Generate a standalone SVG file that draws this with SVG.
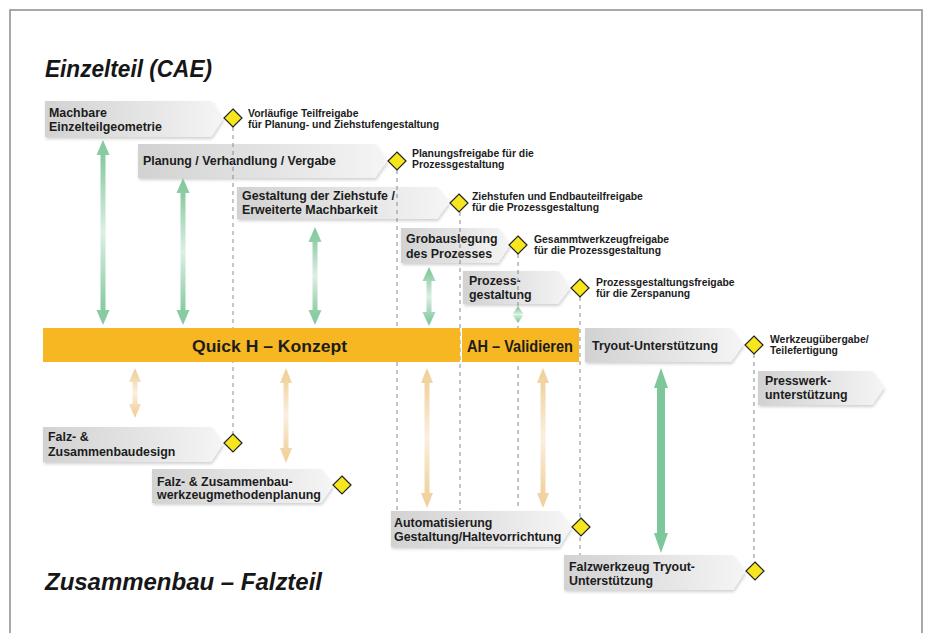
<svg xmlns="http://www.w3.org/2000/svg" width="931" height="633" viewBox="0 0 931 633">
<defs>
<linearGradient id="boxg" x1="0" y1="0" x2="1" y2="0">
<stop offset="0" stop-color="#d2d2d2"/><stop offset="0.6" stop-color="#e6e6e6"/><stop offset="1" stop-color="#f5f5f5"/>
</linearGradient>
<linearGradient id="gfade" x1="0" y1="0" x2="0" y2="1">
<stop offset="0" stop-color="#84c99e"/><stop offset="0.12" stop-color="#8ccda5"/><stop offset="0.5" stop-color="#dcefe3"/><stop offset="0.88" stop-color="#8ccda5"/><stop offset="1" stop-color="#84c99e"/>
</linearGradient>
<linearGradient id="ofade" x1="0" y1="0" x2="0" y2="1">
<stop offset="0" stop-color="#f0d09a"/><stop offset="0.15" stop-color="#f2d5a6"/><stop offset="0.5" stop-color="#faf0e0"/><stop offset="0.85" stop-color="#f2d5a6"/><stop offset="1" stop-color="#f0d09a"/>
</linearGradient>
<filter id="sh" x="-5%" y="-20%" width="115%" height="150%">
<feDropShadow dx="1" dy="2" stdDeviation="1.5" flood-color="#000" flood-opacity="0.18"/>
</filter>
</defs>
<style>
.box{fill:url(#boxg);filter:url(#sh)}
.t{font-family:"Liberation Sans",Arial,sans-serif;font-weight:700;font-size:12.4px;fill:#1c1c1c}
.s{font-family:"Liberation Sans",Arial,sans-serif;font-weight:700;font-size:10.4px;fill:#1c1c1c}
.title{font-family:"Liberation Sans",Arial,sans-serif;font-weight:700;font-style:italic;font-size:23px;fill:#161616}
.bart{font-family:"Liberation Sans",Arial,sans-serif;font-weight:700;font-size:17px;fill:#1c1c1c}
.dia{fill:#f7e51d;stroke:#222;stroke-width:1.2}
.dash{stroke:#8a8a8a;stroke-width:1;stroke-dasharray:4 4;fill:none}
.ga{fill:url(#gfade)}
.oa{fill:url(#ofade)}
</style>
<rect x="0" y="0" width="931" height="633" fill="#fff"/>
<rect x="10" y="10" width="912" height="650" fill="none" stroke="#8c8c8c" stroke-width="1.5"/>

<text class="title" x="45" y="77" textLength="167" lengthAdjust="spacingAndGlyphs">Einzelteil (CAE)</text>
<text class="title" x="45" y="590" textLength="277" lengthAdjust="spacingAndGlyphs">Zusammenbau – Falzteil</text>

<g id="n1"><polygon class="box" points="45,101 211,101 223,119 211,137 45,137"/><text class="t" x="49" y="117">Machbare</text><text class="t" x="49" y="131">Einzelteilgeometrie</text></g>
<g id="n2"><polygon class="box" points="138,144 375,144 387,161 375,178 138,178"/><text class="t" x="143" y="165">Planung / Verhandlung / Vergabe</text></g>
<g id="n3"><polygon class="box" points="237,187 437,187 449,203 437,219 237,219"/><text class="t" x="242" y="200">Gestaltung der Ziehstufe /</text><text class="t" x="242" y="214">Erweiterte Machbarkeit</text></g>
<g id="n4"><polygon class="box" points="401,228 498,228 510,245 498,263 401,263"/><text class="t" x="406" y="243">Grobauslegung</text><text class="t" x="406" y="258">des Prozesses</text></g>
<g id="n5"><polygon class="box" points="463,271 558,271 570,288 558,304 463,304"/><text class="t" x="469" y="285">Prozess-</text><text class="t" x="469" y="299">gestaltung</text></g>
<g id="n6"><polygon class="box" points="585,328 731,328 743,345 731,362 585,362"/><text class="t" x="592" y="350">Tryout-Unterstützung</text></g>
<g id="n7"><polygon class="box" points="758,371 872,371 884,388 872,405 758,405"/><text class="t" x="765" y="385">Presswerk-</text><text class="t" x="765" y="399">unterstützung</text></g>
<g id="n8"><polygon class="box" points="43,427 211,427 223,444 211,462 43,462"/><text class="t" x="48" y="441">Falz- &amp;</text><text class="t" x="48" y="456">Zusammenbaudesign</text></g>
<g id="n9"><polygon class="box" points="152,469 321,469 333,486 321,503 152,503"/><text class="t" x="157" y="486">Falz- &amp; Zusammenbau-</text><text class="t" x="157" y="499">werkzeugmethodenplanung</text></g>
<g id="n10"><polygon class="box" points="391,511 559,511 571,528 559,547 391,547"/><text class="t" x="394" y="527">Automatisierung</text><text class="t" x="394" y="541">Gestaltung/Haltevorrichtung</text></g>
<g id="n11"><polygon class="box" points="564,555 733,555 745,572 733,590 564,590"/><text class="t" x="569" y="571">Falzwerkzeug Tryout-</text><text class="t" x="569" y="585">Unterstützung</text></g>

<g id="connectors">
<line class="dash" x1="233" y1="127" x2="233" y2="434"/>
<line class="dash" x1="397" y1="170" x2="397" y2="510"/>
<line class="dash" x1="460" y1="212" x2="460" y2="510"/>
<line class="dash" x1="518" y1="254" x2="518" y2="510"/>
<line class="dash" x1="580" y1="297" x2="580" y2="555"/>
<line class="dash" x1="754" y1="354" x2="754" y2="562"/>
<polygon class="ga" points="103,140 109.5,155 105.5,155 105.5,310 109.5,310 103,325 96.5,310 100.5,310 100.5,155 96.5,155"/>
<polygon class="ga" points="183,178 189.5,193 185.5,193 185.5,310 189.5,310 183,325 176.5,310 180.5,310 180.5,193 176.5,193"/>
<polygon class="ga" points="315,227 321.5,242 317.5,242 317.5,310 321.5,310 315,325 308.5,310 312.5,310 312.5,242 308.5,242"/>
<polygon class="ga" points="429,267 435.5,281 431.5,281 431.5,312 435.5,312 429,326 422.5,312 426.5,312 426.5,281 422.5,281"/>
<polygon class="ga" points="518,306 523.5,314 521,314 521,315 523.5,315 518,323 512.5,315 515,315 515,314 512.5,314"/>
<polygon class="oa" points="135,368 141,382 137.5,382 137.5,404 141,404 135,418 129,404 132.5,404 132.5,382 129,382"/>
<polygon class="oa" points="286,368 292,383 288.5,383 288.5,448 292,448 286,463 280,448 283.5,448 283.5,383 280,383"/>
<polygon class="oa" points="427,368 433,383 429.5,383 429.5,493 433,493 427,508 421,493 424.5,493 424.5,383 421,383"/>
<polygon class="oa" points="543,368 549,383 545.5,383 545.5,493 549,493 543,508 537,493 540.5,493 540.5,383 537,383"/>
<polygon fill="#7dc79b" points="661,368 668,388 665,388 665,533 668,533 661,553 654,533 657,533 657,388 654,388"/>
</g>

<g id="bar">
<rect x="43" y="328" width="417" height="34" fill="#f6b722"/>
<rect x="462" y="328" width="117" height="34" fill="#f6b722"/>
<text class="bart" x="192" y="352" textLength="155" lengthAdjust="spacingAndGlyphs">Quick H – Konzept</text>
<text class="bart" x="467" y="352" textLength="106" lengthAdjust="spacingAndGlyphs">AH – Validieren</text>
</g>

<g id="m1"><polygon class="dia" points="233,109 242,118 233,127 224,118"/><text class="s" x="248" y="116.5">Vorläufige Teilfreigabe</text><text class="s" x="248" y="128">für Planung- und Ziehstufengestaltung</text></g>
<g id="m2"><polygon class="dia" points="397,152 406,161 397,170 388,161"/><text class="s" x="412" y="156.5">Planungsfreigabe für die</text><text class="s" x="412" y="168">Prozessgestaltung</text></g>
<g id="m3"><polygon class="dia" points="459,194 468,203 459,212 450,203"/><text class="s" x="472" y="199.5">Ziehstufen und Endbauteilfreigabe</text><text class="s" x="472" y="211">für die Prozessgestaltung</text></g>
<g id="m4"><polygon class="dia" points="518,236 527,245 518,254 509,245"/><text class="s" x="534" y="242.5">Gesammtwerkzeugfreigabe</text><text class="s" x="534" y="254">für die Prozessgestaltung</text></g>
<g id="m5"><polygon class="dia" points="580,279 589,288 580,297 571,288"/><text class="s" x="596" y="285.5">Prozessgestaltungsfreigabe</text><text class="s" x="596" y="297">für die Zerspanung</text></g>
<g id="m6"><polygon class="dia" points="754,336 763,345 754,354 745,345"/><text class="s" x="770" y="342.5">Werkzeugübergabe/</text><text class="s" x="770" y="354">Teilefertigung</text></g>
<g id="m8"><polygon class="dia" points="233,434 242,443 233,452 224,443"/></g>
<g id="m9"><polygon class="dia" points="342,476 351,485 342,494 333,485"/></g>
<g id="m10"><polygon class="dia" points="581,518 590,527 581,536 572,527"/></g>
<g id="m11"><polygon class="dia" points="755,562 764,571 755,580 746,571"/></g>
</svg>
